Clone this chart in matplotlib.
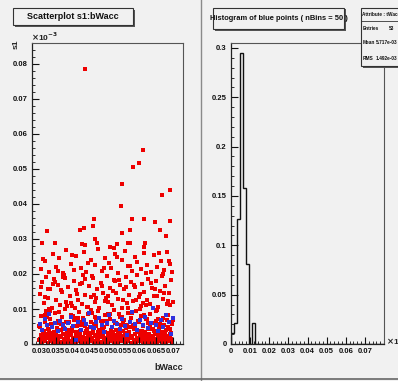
import numpy as np
import matplotlib
matplotlib.use("Agg")
import matplotlib.pyplot as plt
from matplotlib import font_manager
from matplotlib.patches import Rectangle
from matplotlib.lines import Line2D
from matplotlib.ticker import MultipleLocator, FixedLocator, FixedFormatter

names = {f.name for f in font_manager.fontManager.ttflist}
fam = ['Liberation Sans Narrow', 'Liberation Sans', 'DejaVu Sans']
plt.rcParams['font.family'] = [f for f in fam if f in names]
plt.rcParams['font.weight'] = 'bold'

# ---------------- data ----------------
red_hi_x = [0.0437, 0.0610, 0.0598, 0.0581, 0.0548, 0.0545, 0.0691, 0.0667, 0.0464, 0.0461,
            0.0434, 0.0422, 0.0578, 0.0613, 0.0646, 0.0691, 0.0661, 0.0679, 0.0548, 0.0572,
            0.0324, 0.0309, 0.0348, 0.0467, 0.0473, 0.0428, 0.0437, 0.0566, 0.0572, 0.0616,
            0.0533, 0.0512, 0.0524, 0.0613]
red_hi_y = [0.0785, 0.0555, 0.0517, 0.0505, 0.0456, 0.0395, 0.0440, 0.0426, 0.0357, 0.0337,
            0.0331, 0.0325, 0.0357, 0.0357, 0.0348, 0.0351, 0.0326, 0.0310, 0.0317, 0.0326,
            0.0323, 0.0290, 0.0290, 0.0300, 0.0290, 0.0285, 0.0283, 0.0290, 0.0290, 0.0290,
            0.0286, 0.0277, 0.0275, 0.0277]

red_a_x = [0.0305, 0.0318, 0.0329, 0.0341, 0.0352, 0.0361, 0.0373, 0.0382, 0.0394, 0.0403,
           0.0411, 0.0424, 0.0433, 0.0441, 0.0456, 0.0468, 0.0477, 0.0489, 0.0497, 0.0508,
           0.0516, 0.0528, 0.0537, 0.0549, 0.0557, 0.0566, 0.0578, 0.0586, 0.0594, 0.0605,
           0.0613, 0.0622, 0.0634, 0.0643, 0.0652, 0.0664, 0.0673, 0.0682, 0.0691, 0.0698,
           0.0313, 0.0356, 0.0398, 0.0446, 0.0493, 0.0532, 0.0571, 0.0618, 0.0657, 0.0687]
red_a_y = [0.0214, 0.0236, 0.0205, 0.0258, 0.0221, 0.0247, 0.0203, 0.0268, 0.0229, 0.0212,
           0.0251, 0.0218, 0.0263, 0.0207, 0.0239, 0.0226, 0.0272, 0.0209, 0.0245, 0.0231,
           0.0216, 0.0257, 0.0203, 0.0241, 0.0266, 0.0222, 0.0208, 0.0249, 0.0234, 0.0213,
           0.0261, 0.0227, 0.0205, 0.0253, 0.0219, 0.0238, 0.0211, 0.0264, 0.0229, 0.0206,
           0.0243, 0.0209, 0.0255, 0.0232, 0.0217, 0.0248, 0.0224, 0.0202, 0.0259, 0.0236]

red_b_x = [0.0302, 0.0309, 0.0315, 0.0322, 0.0328, 0.0334, 0.0339, 0.0346, 0.0351, 0.0357,
           0.0363, 0.0369, 0.0374, 0.0380, 0.0387, 0.0392, 0.0398, 0.0404, 0.0409, 0.0416,
           0.0421, 0.0427, 0.0432, 0.0438, 0.0445, 0.0450, 0.0455, 0.0462, 0.0467, 0.0473,
           0.0479, 0.0484, 0.0491, 0.0496, 0.0502, 0.0507, 0.0513, 0.0519, 0.0524, 0.0531,
           0.0536, 0.0542, 0.0547, 0.0553, 0.0559, 0.0564, 0.0569, 0.0576, 0.0581, 0.0587,
           0.0592, 0.0598, 0.0604, 0.0609, 0.0615, 0.0621, 0.0626, 0.0632, 0.0638, 0.0643,
           0.0649, 0.0655, 0.0660, 0.0666, 0.0671, 0.0677, 0.0683, 0.0688, 0.0694, 0.0699,
           0.0306, 0.0319, 0.0331, 0.0348, 0.0366, 0.0377, 0.0395, 0.0413, 0.0429, 0.0443,
           0.0458, 0.0471, 0.0487, 0.0505, 0.0521, 0.0539, 0.0551, 0.0567, 0.0584, 0.0601,
           0.0619, 0.0635, 0.0651, 0.0669, 0.0685, 0.0326, 0.0385, 0.0436, 0.0499, 0.0561,
           0.0611, 0.0674, 0.0343, 0.0407, 0.0465, 0.0528, 0.0589, 0.0646, 0.0692, 0.0371]
red_b_y = [0.0143, 0.0176, 0.0118, 0.0192, 0.0131, 0.0157, 0.0104, 0.0185, 0.0126, 0.0168,
           0.0112, 0.0149, 0.0196, 0.0121, 0.0163, 0.0137, 0.0108, 0.0181, 0.0154, 0.0127,
           0.0172, 0.0115, 0.0198, 0.0141, 0.0106, 0.0166, 0.0133, 0.0189, 0.0119, 0.0158,
           0.0102, 0.0174, 0.0145, 0.0124, 0.0193, 0.0136, 0.0161, 0.0111, 0.0183, 0.0147,
           0.0128, 0.0169, 0.0103, 0.0156, 0.0191, 0.0117, 0.0139, 0.0178, 0.0122, 0.0164,
           0.0197, 0.0134, 0.0109, 0.0171, 0.0148, 0.0125, 0.0186, 0.0113, 0.0159, 0.0138,
           0.0179, 0.0105, 0.0152, 0.0194, 0.0129, 0.0167, 0.0114, 0.0146, 0.0182, 0.0121,
           0.0162, 0.0135, 0.0101, 0.0177, 0.0153, 0.0188, 0.0116, 0.0142, 0.0173, 0.0107,
           0.0195, 0.0132, 0.0165, 0.0119, 0.0151, 0.0184, 0.0126, 0.0103, 0.0169, 0.0144,
           0.0111, 0.0175, 0.0138, 0.0199, 0.0123, 0.0156, 0.0108, 0.0187, 0.0131, 0.0164,
           0.0118, 0.0146, 0.0172, 0.0104, 0.0139, 0.0181, 0.0127, 0.0158, 0.0112, 0.0191]

red_c_x = [0.0301, 0.0306, 0.0311, 0.0317, 0.0321, 0.0326, 0.0332, 0.0336, 0.0342, 0.0347,
           0.0353, 0.0358, 0.0362, 0.0368, 0.0373, 0.0378, 0.0383, 0.0389, 0.0394, 0.0399,
           0.0404, 0.0409, 0.0415, 0.0419, 0.0425, 0.0430, 0.0435, 0.0440, 0.0446, 0.0451,
           0.0456, 0.0461, 0.0466, 0.0471, 0.0477, 0.0482, 0.0487, 0.0492, 0.0497, 0.0503,
           0.0508, 0.0513, 0.0518, 0.0523, 0.0529, 0.0534, 0.0539, 0.0544, 0.0549, 0.0554,
           0.0560, 0.0565, 0.0570, 0.0575, 0.0580, 0.0586, 0.0591, 0.0596, 0.0601, 0.0606,
           0.0612, 0.0617, 0.0622, 0.0627, 0.0632, 0.0638, 0.0643, 0.0648, 0.0653, 0.0658,
           0.0663, 0.0669, 0.0674, 0.0679, 0.0684, 0.0689, 0.0695, 0.0699, 0.0303, 0.0314,
           0.0324, 0.0338, 0.0349, 0.0360, 0.0371, 0.0381, 0.0392, 0.0402, 0.0413, 0.0423,
           0.0433, 0.0444, 0.0454, 0.0464, 0.0475, 0.0485, 0.0495, 0.0506, 0.0516, 0.0526,
           0.0537, 0.0547, 0.0557, 0.0568, 0.0578, 0.0588, 0.0599, 0.0609, 0.0619, 0.0630,
           0.0640, 0.0650, 0.0661, 0.0671, 0.0681, 0.0692, 0.0308, 0.0329, 0.0355, 0.0376,
           0.0397, 0.0417, 0.0438, 0.0459, 0.0480, 0.0500, 0.0521, 0.0542, 0.0562, 0.0583,
           0.0603, 0.0624, 0.0645, 0.0666, 0.0686, 0.0319, 0.0344, 0.0366, 0.0387, 0.0407,
           0.0428, 0.0449, 0.0469, 0.0490, 0.0511, 0.0531, 0.0552, 0.0573, 0.0594, 0.0614,
           0.0635, 0.0656, 0.0677, 0.0697, 0.0334, 0.0365, 0.0427, 0.0489, 0.0551, 0.0615]
red_c_y = [0.0052, 0.0081, 0.0037, 0.0064, 0.0095, 0.0043, 0.0071, 0.0056, 0.0032, 0.0088,
           0.0047, 0.0066, 0.0039, 0.0076, 0.0058, 0.0099, 0.0035, 0.0062, 0.0084, 0.0045,
           0.0069, 0.0033, 0.0054, 0.0091, 0.0041, 0.0073, 0.0059, 0.0036, 0.0086, 0.0049,
           0.0063, 0.0038, 0.0078, 0.0051, 0.0094, 0.0034, 0.0067, 0.0044, 0.0082, 0.0057,
           0.0031, 0.0072, 0.0048, 0.0097, 0.0061, 0.0039, 0.0085, 0.0053, 0.0036, 0.0068,
           0.0046, 0.0089, 0.0034, 0.0075, 0.0055, 0.0042, 0.0093, 0.0065, 0.0038, 0.0079,
           0.0051, 0.0033, 0.0071, 0.0044, 0.0087, 0.0059, 0.0037, 0.0066, 0.0096, 0.0047,
           0.0035, 0.0074, 0.0053, 0.0041, 0.0083, 0.0062, 0.0032, 0.0069, 0.0049, 0.0038,
           0.0077, 0.0056, 0.0034, 0.0092, 0.0045, 0.0064, 0.0039, 0.0081, 0.0052, 0.0036,
           0.0070, 0.0043, 0.0098, 0.0058, 0.0033, 0.0067, 0.0048, 0.0085, 0.0040, 0.0061,
           0.0035, 0.0076, 0.0054, 0.0031, 0.0089, 0.0046, 0.0063, 0.0037, 0.0072, 0.0050,
           0.0042, 0.0094, 0.0057, 0.0034, 0.0068, 0.0044, 0.0080, 0.0038, 0.0060, 0.0047,
           0.0036, 0.0073, 0.0052, 0.0090, 0.0040, 0.0065, 0.0033, 0.0078, 0.0055, 0.0043,
           0.0099, 0.0061, 0.0037, 0.0070, 0.0048, 0.0084, 0.0035, 0.0058, 0.0041, 0.0075,
           0.0053, 0.0032, 0.0067, 0.0045, 0.0087, 0.0039, 0.0062, 0.0050, 0.0036, 0.0079,
           0.0044, 0.0071, 0.0034, 0.0056, 0.0093, 0.0040, 0.0064, 0.0047, 0.0038, 0.0082]

red_band_x = [0.0301, 0.0305, 0.0308, 0.0312, 0.0314, 0.0318, 0.0321, 0.0325, 0.0327, 0.0331,
              0.0334, 0.0337, 0.0341, 0.0343, 0.0347, 0.0350, 0.0352, 0.0356, 0.0359, 0.0362,
              0.0366, 0.0368, 0.0371, 0.0375, 0.0378, 0.0380, 0.0384, 0.0387, 0.0390, 0.0393,
              0.0396, 0.0399, 0.0402, 0.0405, 0.0409, 0.0411, 0.0414, 0.0418, 0.0421, 0.0423,
              0.0427, 0.0430, 0.0433, 0.0436, 0.0439, 0.0442, 0.0446, 0.0448, 0.0452, 0.0455,
              0.0457, 0.0461, 0.0464, 0.0467, 0.0470, 0.0474, 0.0476, 0.0480, 0.0483, 0.0486,
              0.0489, 0.0492, 0.0495, 0.0498, 0.0502, 0.0505, 0.0507, 0.0511, 0.0514, 0.0517,
              0.0520, 0.0523, 0.0527, 0.0529, 0.0533, 0.0536, 0.0539, 0.0542, 0.0545, 0.0548,
              0.0551, 0.0555, 0.0557, 0.0561, 0.0564, 0.0567, 0.0570, 0.0573, 0.0577, 0.0579,
              0.0583, 0.0586, 0.0589, 0.0592, 0.0595, 0.0598, 0.0601, 0.0605, 0.0608, 0.0611,
              0.0614, 0.0617, 0.0620, 0.0623, 0.0627, 0.0629, 0.0633, 0.0636, 0.0639, 0.0642,
              0.0645, 0.0648, 0.0652, 0.0654, 0.0658, 0.0661, 0.0664, 0.0667, 0.0670, 0.0673,
              0.0676, 0.0680, 0.0683, 0.0686, 0.0689, 0.0692, 0.0695, 0.0698, 0.0302, 0.0335,
              0.0310, 0.0344, 0.0372, 0.0401, 0.0432, 0.0463, 0.0494, 0.0525, 0.0556, 0.0587,
              0.0618, 0.0649, 0.0679, 0.0697, 0.0322, 0.0358, 0.0389, 0.0417, 0.0449, 0.0479,
              0.0509, 0.0540, 0.0571, 0.0602, 0.0632, 0.0663, 0.0691, 0.0316, 0.0353, 0.0385,
              0.0413, 0.0444, 0.0472, 0.0504, 0.0535, 0.0565, 0.0596, 0.0626, 0.0657, 0.0688]
red_band_y = [0.0012, 0.0025, 0.0006, 0.0019, 0.0031, 0.0009, 0.0016, 0.0028, 0.0004, 0.0021,
              0.0008, 0.0027, 0.0014, 0.0003, 0.0022, 0.0011, 0.0030, 0.0017, 0.0006, 0.0024,
              0.0019, 0.0005, 0.0029, 0.0013, 0.0008, 0.0023, 0.0002, 0.0016, 0.0033, 0.0010,
              0.0026, 0.0007, 0.0018, 0.0012, 0.0030, 0.0004, 0.0021, 0.0015, 0.0009, 0.0027,
              0.0003, 0.0020, 0.0011, 0.0032, 0.0017, 0.0006, 0.0024, 0.0013, 0.0028, 0.0008,
              0.0016, 0.0031, 0.0005, 0.0022, 0.0010, 0.0026, 0.0014, 0.0003, 0.0019, 0.0029,
              0.0007, 0.0023, 0.0012, 0.0034, 0.0018, 0.0004, 0.0027, 0.0009, 0.0021, 0.0015,
              0.0030, 0.0006, 0.0017, 0.0025, 0.0011, 0.0002, 0.0020, 0.0028, 0.0013, 0.0008,
              0.0024, 0.0015, 0.0031, 0.0005, 0.0019, 0.0010, 0.0026, 0.0016, 0.0003, 0.0022,
              0.0012, 0.0029, 0.0007, 0.0018, 0.0033, 0.0009, 0.0021, 0.0014, 0.0027, 0.0004,
              0.0019, 0.0008, 0.0025, 0.0013, 0.0003, 0.0030, 0.0016, 0.0006, 0.0023, 0.0011,
              0.0028, 0.0015, 0.0005, 0.0020, 0.0032, 0.0010, 0.0017, 0.0026, 0.0007, 0.0022,
              0.0013, 0.0002, 0.0024, 0.0018, 0.0009, 0.0029, 0.0015, 0.0006, 0.0014, 0.0009,
              0.0005, 0.0004, 0.0007, 0.0003, 0.0006, 0.0005, 0.0004, 0.0007, 0.0003, 0.0006,
              0.0005, 0.0004, 0.0006, 0.0003, 0.0024, 0.0021, 0.0026, 0.0019, 0.0023, 0.0020,
              0.0025, 0.0018, 0.0022, 0.0027, 0.0020, 0.0024, 0.0021, 0.0014, 0.0012, 0.0015,
              0.0013, 0.0011, 0.0016, 0.0012, 0.0014, 0.0010, 0.0015, 0.0013, 0.0011, 0.0016]

blue_x = [0.0302, 0.0309, 0.0318, 0.0325, 0.0331, 0.0340, 0.0348, 0.0356, 0.0363, 0.0371,
          0.0379, 0.0386, 0.0394, 0.0402, 0.0410, 0.0417, 0.0425, 0.0433, 0.0440, 0.0448,
          0.0456, 0.0463, 0.0471, 0.0479, 0.0487, 0.0494, 0.0502, 0.0510, 0.0517, 0.0525,
          0.0533, 0.0541, 0.0548, 0.0556, 0.0564, 0.0571, 0.0579, 0.0587, 0.0594, 0.0602,
          0.0610, 0.0617, 0.0625, 0.0633, 0.0641, 0.0648, 0.0656, 0.0664, 0.0671, 0.0679,
          0.0687, 0.0694, 0.0699]
blue_y = [0.0058, 0.0041, 0.0072, 0.0053, 0.0086, 0.0049, 0.0061, 0.0037, 0.0067, 0.0055,
          0.0044, 0.0059, 0.0078, 0.0051, 0.0012, 0.0063, 0.0039, 0.0070, 0.0056, 0.0088,
          0.0050, 0.0046, 0.0062, 0.0074, 0.0054, 0.0035, 0.0060, 0.0082, 0.0049, 0.0066,
          0.0057, 0.0043, 0.0071, 0.0052, 0.0025, 0.0064, 0.0091, 0.0058, 0.0040, 0.0068,
          0.0053, 0.0076, 0.0047, 0.0061, 0.0104, 0.0055, 0.0038, 0.0069, 0.0050, 0.0084,
          0.0062, 0.0029, 0.0073]

hist_heights = [0.011, 0.021, 0.127, 0.295, 0.158, 0.081, 0.0, 0.021]
n_bins = 50
hist_range = (0.0, 0.08)

scatter_xticks = [0.03, 0.035, 0.04, 0.045, 0.05, 0.055, 0.06, 0.065, 0.07]
scatter_xlabels = ['0.03', '0.035', '0.04', '0.045', '0.05', '0.055', '0.06', '0.065', '0.07']
scatter_yticks = [0, 0.01, 0.02, 0.03, 0.04, 0.05, 0.06, 0.07, 0.08]
scatter_ylabels = ['0', '0.01', '0.02', '0.03', '0.04', '0.05', '0.06', '0.07', '0.08']
hist_xticks = [0, 0.01, 0.02, 0.03, 0.04, 0.05, 0.06, 0.07]
hist_xlabels = ['0', '0.01', '0.02', '0.03', '0.04', '0.05', '0.06', '0.07']
hist_yticks = [0, 0.05, 0.1, 0.15, 0.2, 0.25, 0.3]
hist_ylabels = ['0', '0.05', '0.1', '0.15', '0.2', '0.25', '0.3']

stats_title = 'Attribute : tWacc'
stats_rows = [('Entries', '53'), ('Mean', '5.717e-03'), ('RMS', '1.492e-03')]

# ---------------- figure ----------------
W, H = 398, 381
BG = '#f1f1f1'
fig = plt.figure(figsize=(W / 100, H / 100), dpi=100)
fig.patch.set_facecolor(BG)


def fx(px):
    return px / W


def fy(py):
    return 1 - py / H


def style_axes(ax):
    ax.set_facecolor(BG)
    for s in ['left', 'bottom']:
        ax.spines[s].set_color('#222222')
        ax.spines[s].set_linewidth(0.9)
    for s in ['top', 'right']:
        ax.spines[s].set_color('#555555')
        ax.spines[s].set_linewidth(0.8)
    ax.tick_params(which='major', direction='in', length=5, width=0.8, labelsize=5.5,
                   top=False, right=False, colors='#111111', pad=3)
    ax.tick_params(which='minor', direction='in', length=2.5, width=0.6,
                   top=False, right=False, colors='#111111')


# ---- scatter pad ----
ax1 = fig.add_axes([fx(32), fy(344), fx(151), 301 / H])
style_axes(ax1)
ms = 5.0
for xs, ys in [(red_band_x, red_band_y), (red_c_x, red_c_y), (red_b_x, red_b_y),
               (red_a_x, red_a_y), (red_hi_x, red_hi_y)]:
    ax1.scatter(xs, ys, s=ms, marker='s', c='#ee0000', linewidths=0)
ax1.scatter(blue_x, blue_y, s=ms, marker='s', c='#3030dd', linewidths=0)
ax1.set_xlim(0.0279, 0.0730)
ax1.set_ylim(0, 0.086)
ax1.xaxis.set_major_locator(FixedLocator(scatter_xticks))
ax1.xaxis.set_major_formatter(FixedFormatter(scatter_xlabels))
ax1.yaxis.set_major_locator(FixedLocator(scatter_yticks))
ax1.yaxis.set_major_formatter(FixedFormatter(scatter_ylabels))
ax1.xaxis.set_minor_locator(MultipleLocator(0.001))
ax1.yaxis.set_minor_locator(MultipleLocator(0.002))

# ---- histogram pad ----
ax2 = fig.add_axes([fx(231), fy(344), fx(153), 301 / H])
style_axes(ax2)
edges = np.linspace(hist_range[0], hist_range[1], n_bins + 1)
heights = np.zeros(n_bins)
heights[:len(hist_heights)] = hist_heights
ax2.stairs(heights, edges, color='#111111', linewidth=1.0)
ax2.set_xlim(*hist_range)
ax2.set_ylim(0, 0.305)
ax2.xaxis.set_major_locator(FixedLocator(hist_xticks))
ax2.xaxis.set_major_formatter(FixedFormatter(hist_xlabels))
ax2.yaxis.set_major_locator(FixedLocator(hist_yticks))
ax2.yaxis.set_major_formatter(FixedFormatter(hist_ylabels))
ax2.xaxis.set_minor_locator(MultipleLocator(0.002))
ax2.yaxis.set_minor_locator(MultipleLocator(0.01))

# ---- texts ----
fig.text(fx(31), fy(37), r'$\times$10$^{-3}$', fontsize=6, ha='left', va='center', color='#222222')
fig.text(fx(386), fy(341), r'$\times$10$^{-3}$', fontsize=6, ha='left', va='center', color='#222222')
fig.text(fx(16), fy(44), 's1', fontsize=6, rotation=90, ha='center', va='center', color='#222222')
fig.text(fx(183), fy(368), 'bWacc', fontsize=6.5, ha='right', va='center', color='#222222')


def title_box(x0, y0, x1, y1, text, fs=6.5):
    fig.add_artist(Rectangle((fx(x0 + 1.5), fy(y1 + 1.5)), fx(x1 - x0), (y1 - y0) / H,
                             transform=fig.transFigure, facecolor='#555555', edgecolor='none'))
    fig.add_artist(Rectangle((fx(x0), fy(y1)), fx(x1 - x0), (y1 - y0) / H,
                             transform=fig.transFigure, facecolor=BG, edgecolor='#333333',
                             linewidth=0.8))
    fig.text(fx((x0 + x1) / 2), fy((y0 + y1) / 2), text, fontsize=fs, ha='center',
             va='center', color='#111111')


title_box(13, 8, 133, 25, 'Scatterplot s1:bWacc', fs=6.5)
title_box(213, 8, 344, 29, 'Histogram of blue points ( nBins = 50 )', fs=5.4)

sx0, sy0, sx1, sy1 = 361, 8, 402, 66
fig.add_artist(Rectangle((fx(sx0 + 1.5), fy(sy1 + 1.5)), fx(sx1 - sx0), (sy1 - sy0) / H,
                         transform=fig.transFigure, facecolor='#555555', edgecolor='none'))
fig.add_artist(Rectangle((fx(sx0), fy(sy1)), fx(sx1 - sx0), (sy1 - sy0) / H,
                         transform=fig.transFigure, facecolor=BG, edgecolor='#333333',
                         linewidth=0.8))
fig.add_artist(Line2D([fx(sx0), fx(sx1)], [fy(21), fy(21)], transform=fig.transFigure,
                      color='#333333', linewidth=0.6))
fig.text(fx(sx0 + 1), fy(14.5), stats_title, fontsize=3.4, ha='left', va='center', color='#111111')
row_y = [28, 43, 58]
val_x = [389, 375.5, 375.5]
for (k, v), ry, vx in zip(stats_rows, row_y, val_x):
    fig.text(fx(sx0 + 1.5), fy(ry), k, fontsize=3.4, ha='left', va='center', color='#111111')
    fig.text(fx(vx), fy(ry), v, fontsize=3.4, ha='left', va='center', color='#111111')

fig.add_artist(Line2D([fx(200.5), fx(200.5)], [0, 1], transform=fig.transFigure,
                      color='#8a8a8a', linewidth=1.0))
fig.add_artist(Line2D([0, 1], [fy(378.5), fy(378.5)], transform=fig.transFigure,
                      color='#666666', linewidth=1.2))

fig.savefig('out.png', dpi=100, facecolor=BG)
